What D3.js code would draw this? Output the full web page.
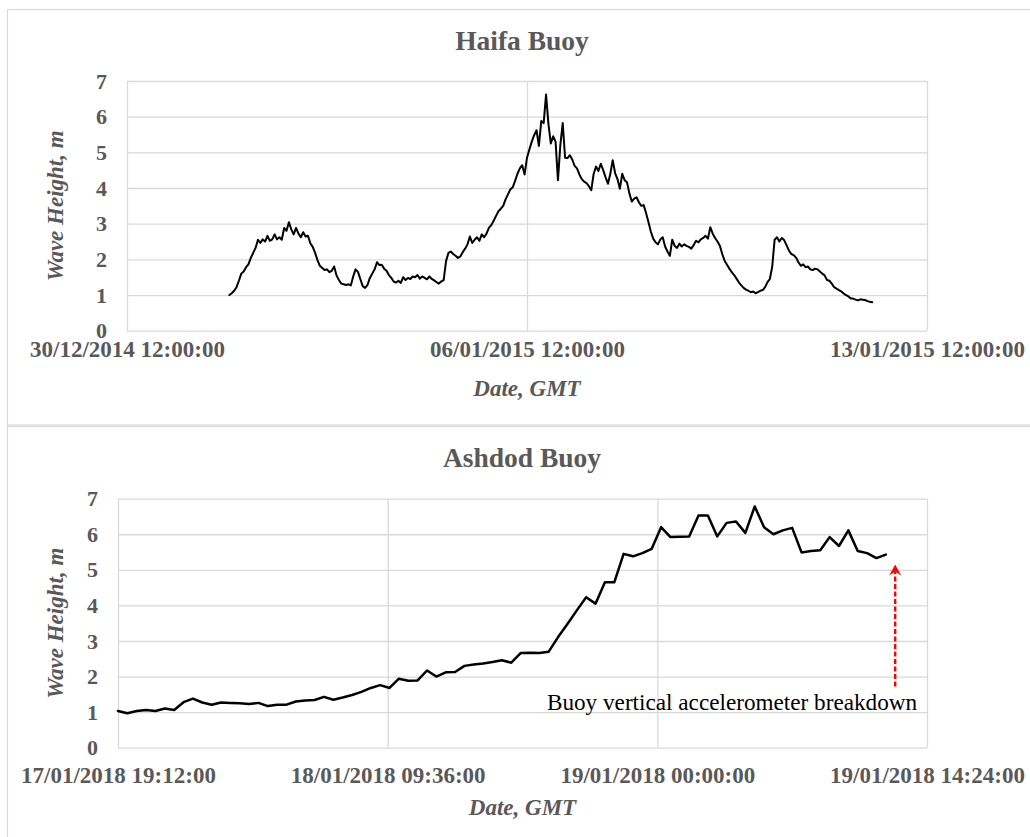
<!DOCTYPE html>
<html>
<head>
<meta charset="utf-8">
<script src="https://cdn.jsdelivr.net/npm/d3@7"></script>
<style>
  html, body { margin: 0; padding: 0; background: #ffffff; }
  svg { display: block; }
</style>
</head>
<body>
<svg id="chart" width="1030" height="837"></svg>
<script>
// ---------------- DATA ----------------
// Haifa buoy: hourly significant wave height (m), starting 01/01/2015 07:00 GMT
const haifaStart = "2015-01-01T07:00:00Z";
const haifaStepMinutes = 60;
const haifaHeights = [
  1.00,1.05,1.12,1.22,1.40,1.60,1.66,1.78,1.86,2.04,
  2.18,2.32,2.55,2.46,2.56,2.50,2.66,2.52,2.56,2.70,
  2.56,2.62,2.55,2.88,2.80,3.04,2.84,2.70,2.88,2.72,
  2.62,2.76,2.64,2.66,2.45,2.35,2.18,1.98,1.82,1.76,
  1.70,1.72,1.64,1.68,1.80,1.55,1.42,1.32,1.30,1.28,
  1.30,1.27,1.52,1.72,1.65,1.45,1.25,1.20,1.28,1.48,
  1.60,1.72,1.92,1.84,1.85,1.74,1.68,1.56,1.48,1.38,
  1.35,1.40,1.34,1.50,1.42,1.48,1.45,1.52,1.50,1.56,
  1.46,1.52,1.48,1.44,1.52,1.45,1.41,1.36,1.32,1.38,
  1.42,1.95,2.18,2.22,2.15,2.10,2.04,2.08,2.20,2.30,
  2.42,2.64,2.46,2.55,2.62,2.52,2.70,2.62,2.72,2.88,
  2.96,3.08,3.22,3.35,3.42,3.50,3.68,3.82,3.96,4.02,
  4.20,4.40,4.55,4.64,4.38,4.85,5.08,5.30,5.48,5.62,
  5.18,5.88,5.82,6.62,5.80,5.25,5.45,5.30,4.22,5.20,
  5.82,4.85,4.84,4.92,4.80,4.62,4.55,4.38,4.25,4.18,
  4.14,4.05,3.94,4.40,4.60,4.48,4.68,4.50,4.30,4.12,
  4.40,4.78,4.42,4.25,3.98,4.40,4.22,4.16,3.85,3.62,
  3.70,3.74,3.60,3.50,3.52,3.30,3.05,2.78,2.58,2.48,
  2.42,2.56,2.62,2.36,2.22,2.10,2.55,2.38,2.32,2.44,
  2.36,2.42,2.38,2.35,2.30,2.40,2.52,2.48,2.56,2.60,
  2.66,2.58,2.90,2.72,2.60,2.50,2.38,2.15,1.96,1.85,
  1.74,1.64,1.56,1.46,1.35,1.27,1.20,1.15,1.12,1.08,
  1.10,1.05,1.08,1.12,1.14,1.22,1.36,1.45,1.80,2.55,
  2.62,2.50,2.60,2.54,2.40,2.25,2.15,2.12,2.05,1.92,
  1.82,1.86,1.78,1.80,1.72,1.70,1.74,1.72,1.66,1.60,
  1.55,1.42,1.40,1.32,1.22,1.18,1.14,1.10,1.04,1.00,
  0.96,0.90,0.90,0.87,0.85,0.88,0.87,0.86,0.83,0.81,
  0.80
];
const haifaTicks = ["2014-12-30T12:00:00Z", "2015-01-06T12:00:00Z", "2015-01-13T12:00:00Z"];

// Ashdod buoy: half-hourly wave height (m), starting 17/01/2018 19:12 GMT
const ashdodStart = "2018-01-17T19:12:00Z";
const ashdodStepMinutes = 30;
const ashdodHeights = [
  1.03,0.97,1.03,1.06,1.03,1.10,1.06,1.28,1.38,1.27,
  1.21,1.27,1.26,1.25,1.23,1.26,1.17,1.21,1.21,1.30,
  1.33,1.34,1.43,1.35,1.41,1.48,1.57,1.68,1.76,1.68,
  1.94,1.88,1.89,2.17,2.00,2.12,2.13,2.30,2.34,2.37,
  2.41,2.46,2.39,2.66,2.67,2.66,2.70,3.11,3.48,3.86,
  4.23,4.05,4.65,4.65,5.45,5.38,5.47,5.59,6.20,5.92,
  5.93,5.94,6.53,6.53,5.94,6.32,6.36,6.04,6.78,6.20,
  6.00,6.11,6.18,5.49,5.53,5.55,5.92,5.67,6.11,5.53,
  5.47,5.33,5.43
];
const ashdodTicks = ["2018-01-17T19:12:00Z", "2018-01-18T09:36:00Z", "2018-01-19T00:00:00Z", "2018-01-19T14:24:00Z"];

const yTicks = [0, 1, 2, 3, 4, 5, 6, 7];

const titles = ["Haifa Buoy", "Ashdod Buoy"];
const yTitle = "Wave Height, m";
const xTitle = "Date, GMT";
const annotationText = "Buoy vertical accelerometer breakdown";
const annotationTime = "2018-01-19T12:42:00Z";
const annotationTip = 5.15;
const annotationTail = 1.72;

// ---------------- DRAWING ----------------
const svg = d3.select("#chart");
const FONT = "'Liberation Serif', 'Times New Roman', Times, serif";
const GREY_TEXT = "#595959";
const GRID = "#d9d9d9";
const TICK_SIZE = 23;
const fmt = d3.utcFormat("%d/%m/%Y %H:%M:%S");

svg.append("rect").attr("x", 0).attr("y", 0).attr("width", 1030).attr("height", 837).attr("fill", "#fff");

function buildSeries(start, stepMin, values) {
  const t0 = new Date(start).getTime();
  return values.map((v, i) => ({ t: new Date(t0 + i * stepMin * 60000), v }));
}

function drawPanel(cfg) {
  const g = svg.append("g");
  // panel border
  g.append("rect")
    .attr("x", cfg.panel[0]).attr("y", cfg.panel[1])
    .attr("width", cfg.panel[2]).attr("height", cfg.panel[3])
    .attr("fill", "none").attr("stroke", GRID).attr("stroke-width", 1.2);

  const ticks = cfg.ticks.map(d => new Date(d));
  const x = d3.scaleUtc().domain([ticks[0], ticks[ticks.length - 1]]).range([cfg.left, cfg.right]);
  const y = d3.scaleLinear().domain([0, 7]).range([cfg.bottom, cfg.top]);

  // horizontal gridlines
  g.append("g").attr("transform", `translate(${cfg.left},0)`)
    .call(d3.axisLeft(y).tickValues(yTicks).tickSize(-(cfg.right - cfg.left)).tickFormat(""))
    .call(s => s.select(".domain").remove())
    .call(s => s.selectAll("line").attr("stroke", GRID).attr("stroke-width", 1.3));
  // vertical gridlines
  g.append("g").attr("transform", `translate(0,${cfg.bottom})`)
    .call(d3.axisBottom(x).tickValues(ticks).tickSize(-(cfg.bottom - cfg.top)).tickFormat(""))
    .call(s => s.select(".domain").remove())
    .call(s => s.selectAll("line").attr("stroke", GRID).attr("stroke-width", 1.3));

  // y tick labels
  g.append("g").attr("transform", `translate(${cfg.left},0)`)
    .call(d3.axisLeft(y).tickValues(yTicks).tickSize(0).tickPadding(20).tickFormat(d3.format("d")))
    .call(s => s.select(".domain").remove())
    .call(s => s.selectAll("text")
      .attr("font-family", FONT).attr("font-size", 22).attr("font-weight", "bold").attr("fill", GREY_TEXT));

  // x tick labels
  g.append("g").attr("transform", `translate(0,${cfg.bottom})`)
    .call(d3.axisBottom(x).tickValues(ticks).tickSize(0).tickPadding(cfg.xPad).tickFormat(fmt))
    .call(s => s.select(".domain").remove())
    .call(s => s.selectAll("text")
      .attr("font-family", FONT).attr("font-size", TICK_SIZE).attr("font-weight", "bold").attr("fill", GREY_TEXT));

  // title
  g.append("text").attr("x", cfg.titleX).attr("y", cfg.titleY)
    .attr("text-anchor", "middle").attr("font-family", FONT).attr("font-size", 27.5)
    .attr("font-weight", "bold").attr("fill", GREY_TEXT).text(cfg.title);

  // y axis title
  g.append("text")
    .attr("transform", `translate(${cfg.yTitleX},${(cfg.top + cfg.bottom) / 2}) rotate(-90)`)
    .attr("text-anchor", "middle").attr("font-family", FONT).attr("font-size", 23)
    .attr("font-weight", "bold").attr("font-style", "italic").attr("fill", GREY_TEXT).text(yTitle);

  // x axis title
  g.append("text").attr("x", (cfg.left + cfg.right) / 2).attr("y", cfg.xTitleY)
    .attr("text-anchor", "middle").attr("font-family", FONT).attr("font-size", 23)
    .attr("font-weight", "bold").attr("font-style", "italic").attr("fill", GREY_TEXT).text(xTitle);

  // data line
  const line = d3.line().x(d => x(d.t)).y(d => y(d.v));
  g.append("path").datum(cfg.series)
    .attr("d", line).attr("fill", "none").attr("stroke", "#000")
    .attr("stroke-width", cfg.lineWidth).attr("stroke-linejoin", "round").attr("stroke-linecap", "round");

  return { g, x, y };
}

drawPanel({
  panel: [7.5, 9.5, 1040, 415.5],
  left: 127, right: 927, top: 81, bottom: 330.7,
  ticks: haifaTicks, xPad: 9.7,
  title: titles[0], titleX: 522, titleY: 50,
  yTitleX: 63, xTitleY: 396,
  series: buildSeries(haifaStart, haifaStepMinutes, haifaHeights),
  lineWidth: 2
});

const bottomPanel = drawPanel({
  panel: [7.5, 426.5, 1040, 420],
  left: 118, right: 927, top: 498.7, bottom: 747.7,
  ticks: ashdodTicks, xPad: 18.7,
  title: titles[1], titleX: 522, titleY: 467,
  yTitleX: 63, xTitleY: 815,
  series: buildSeries(ashdodStart, ashdodStepMinutes, ashdodHeights),
  lineWidth: 2.5
});

// annotation arrow + text
(function () {
  const { g, x, y } = bottomPanel;
  const ax = x(new Date(annotationTime));
  const tipY = y(annotationTip);
  const tailY = y(annotationTail);
  g.append("line")
    .attr("x1", ax).attr("y1", tailY).attr("x2", ax).attr("y2", tipY + 7)
    .attr("stroke", "#ff0000").attr("stroke-width", 2.4).attr("stroke-dasharray", "5,2.5");
  g.append("path")
    .attr("d", `M${ax},${tipY} L${ax - 6},${tipY + 11} L${ax},${tipY + 7} L${ax + 6},${tipY + 11} Z`)
    .attr("fill", "#ff0000");
  g.append("text")
    .attr("x", ax + 22).attr("y", y(1.06))
    .attr("text-anchor", "end").attr("font-family", FONT).attr("font-size", 23.2)
    .attr("fill", "#000").text(annotationText);
})();
</script>
</body>
</html>
